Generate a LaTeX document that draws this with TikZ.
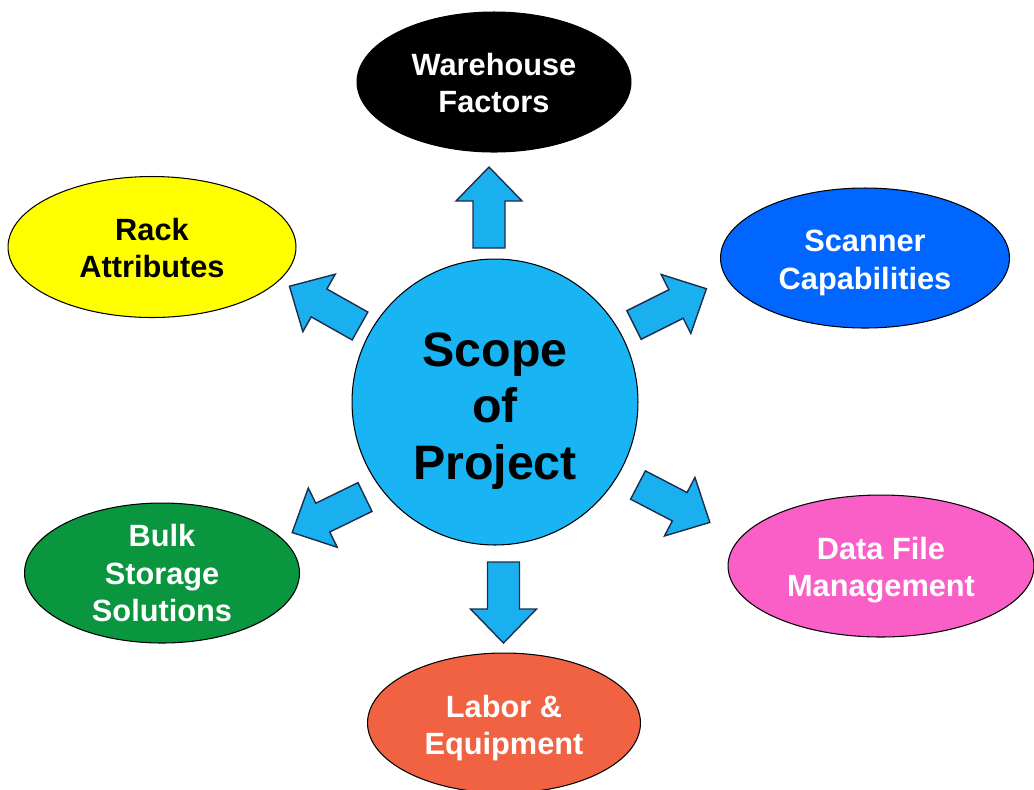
\documentclass[tikz,border=0pt]{standalone}
\usepackage{fontspec}
\setmainfont{Liberation Sans}
\usetikzlibrary{shapes.geometric}
\definecolor{circblue}{RGB}{24,180,244}
\definecolor{arrblue}{RGB}{26,176,240}
\definecolor{arrline}{RGB}{30,45,75}
\definecolor{scanblue}{RGB}{0,102,255}
\definecolor{datapink}{RGB}{250,95,200}
\definecolor{laborred}{RGB}{240,98,66}
\definecolor{bulkgreen}{RGB}{10,150,62}
\definecolor{rackyellow}{RGB}{255,255,0}
\tikzset{
  oval/.style={ellipse, draw=black, line width=0.6pt, inner sep=0pt, outer sep=0pt},
  ovaltext/.style={align=center, inner sep=0pt, font=\bfseries\fontsize{17.5}{21.5}\selectfont},
  arrowshape/.style={fill=arrblue, draw=arrline, line width=0.8pt, line join=miter},
  barrow/.pic={\path[arrowshape] (0,-16) -- (47,-16) -- (47,-33) -- (81,0) -- (47,33) -- (47,16) -- (0,16) -- cycle;}
}
\begin{document}
\begin{tikzpicture}[x=0.02cm, y=-0.02cm]
\useasboundingbox (0,0) rectangle (1034,789);
% outer ellipses
\node[oval, fill=black, minimum width=5.48cm, minimum height=2.8cm] (wh) at (494,82) {};
\node[ovaltext, text=white] (wht) at ([yshift=-0.02cm]wh.center) {Warehouse\\Factors};
\node[oval, fill=rackyellow, minimum width=5.76cm, minimum height=2.82cm] (rack) at (152,247) {};
\node[ovaltext, text=black] (rackt) at ([yshift=-0.02cm]rack.center) {Rack\\Attributes};
\node[oval, fill=scanblue, minimum width=5.78cm, minimum height=2.8cm] (scan) at (865,258) {};
\node[ovaltext, text=white] (scant) at ([yshift=-0.1cm]scan.center) {Scanner\\Capabilities};
\node[oval, fill=datapink, minimum width=6.12cm, minimum height=2.84cm] (data) at (881,566) {};
\node[ovaltext, text=white] (datat) at ([yshift=-0.08cm]data.center) {Data File\\Management};
\node[oval, fill=laborred, minimum width=5.46cm, minimum height=2.8cm] (labor) at (504,723) {};
\node[ovaltext, text=white] (labort) at ([yshift=-0.1cm]labor.center) {Labor \&\\Equipment};
\node[oval, fill=bulkgreen, minimum width=5.5cm, minimum height=2.8cm] (bulk) at (162,573) {};
\node[ovaltext, text=white] (bulkt) at (bulk.center) {Bulk\\Storage\\Solutions};
% center
\node[circle, draw=black, line width=0.6pt, fill=circblue, minimum size=5.72cm, inner sep=0pt] (scope) at (495,402) {};
\node[align=center, inner sep=0pt, font=\bfseries\fontsize{27.5}{32.3}\selectfont] (scopet) at ([yshift=-0.18cm]scope.center) {Scope\\of\\Project};
% block arrows
\coordinate (aup) at (489,248);
\coordinate (adown) at (503.5,562);
\coordinate (aul) at (360,326);
\coordinate (aur) at (634,325);
\coordinate (all) at (365,497);
\coordinate (alr) at (638,485);
\pic[rotate=90] (arrup) at (aup) {barrow};
\pic[rotate=-90] (arrdown) at (adown) {barrow};
\pic[rotate=150.6] (arrul) at (aul) {barrow};
\pic[rotate=26.6] (arrur) at (aur) {barrow};
\pic[rotate=-154] (arrll) at (all) {barrow};
\pic[rotate=-27.5] (arrlr) at (alr) {barrow};
\end{tikzpicture}
\end{document}
